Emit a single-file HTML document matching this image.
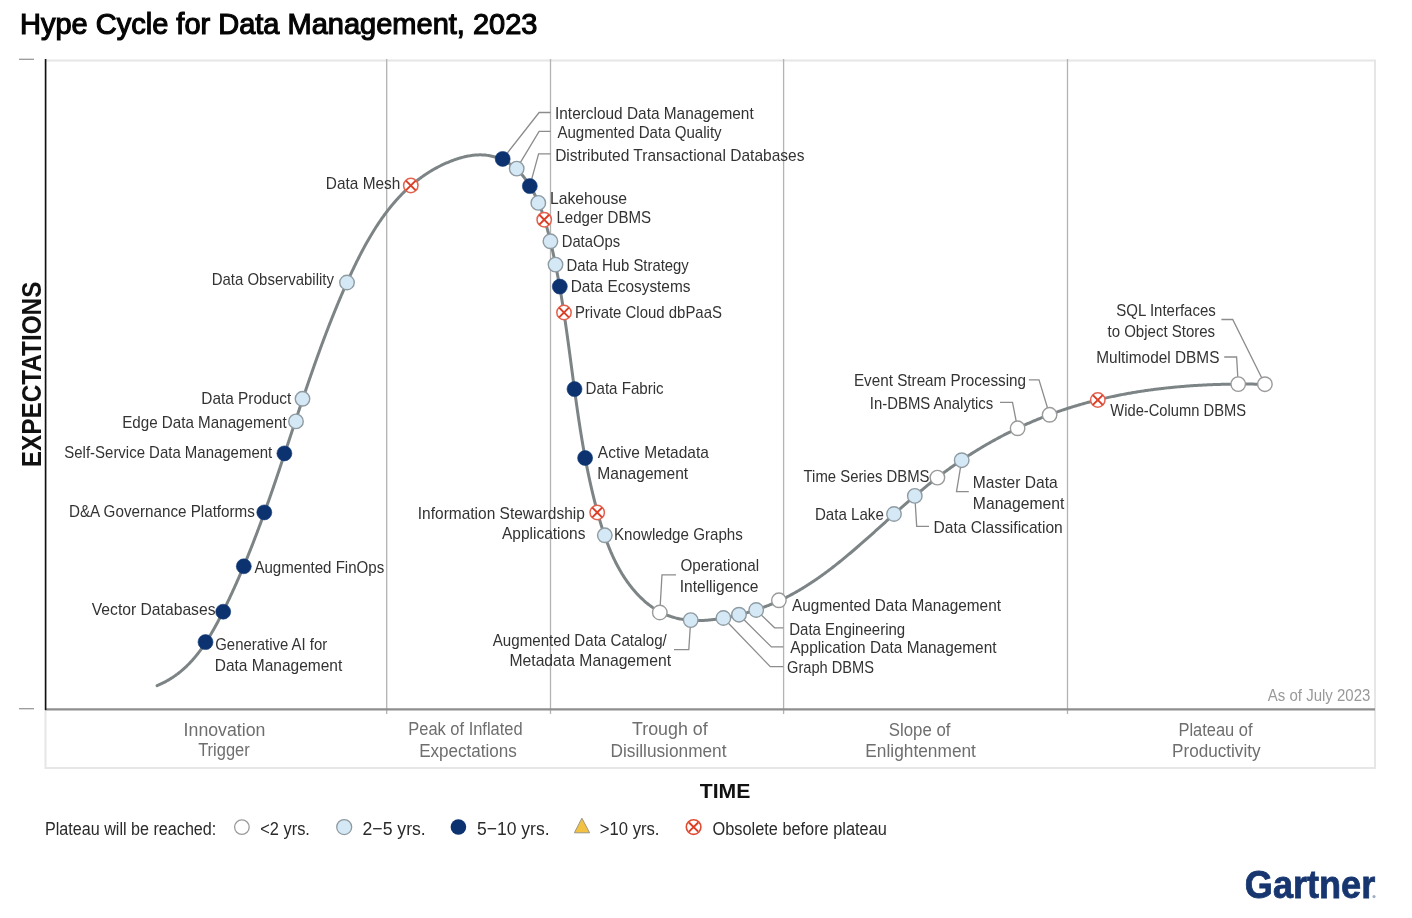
<!DOCTYPE html><html><head><meta charset="utf-8"><title>Hype Cycle for Data Management, 2023</title><style>html,body{margin:0;padding:0;background:#fff;width:1412px;height:918px;overflow:hidden}svg{display:block;will-change:transform;font-family:"Liberation Sans",Arial,sans-serif}</style></head><body>
<svg width="1412" height="918" viewBox="0 0 1412 918">
<text x="19.98" y="34.20" font-size="30" fill="#050505" textLength="517.52" lengthAdjust="spacingAndGlyphs" stroke="#050505" stroke-width="1.2">Hype Cycle for Data Management, 2023</text>
<rect x="45.5" y="60.5" width="1329.5" height="707.5" fill="none" stroke="#e6e6e6" stroke-width="2"/>
<line x1="386.7" y1="59" x2="386.7" y2="714" stroke="#b3b3b3" stroke-width="1.3"/>
<line x1="550.5" y1="59" x2="550.5" y2="714" stroke="#b3b3b3" stroke-width="1.3"/>
<line x1="783.6" y1="59" x2="783.6" y2="714" stroke="#b3b3b3" stroke-width="1.3"/>
<line x1="1067.5" y1="59" x2="1067.5" y2="714" stroke="#b3b3b3" stroke-width="1.3"/>
<line x1="45" y1="709.3" x2="1375" y2="709.3" stroke="#8e8e8e" stroke-width="2.2"/>
<line x1="45.6" y1="59" x2="45.6" y2="710" stroke="#111" stroke-width="1.6"/>
<line x1="19" y1="59.3" x2="34" y2="59.3" stroke="#999" stroke-width="1.3"/>
<line x1="19" y1="708.7" x2="34" y2="708.7" stroke="#999" stroke-width="1.3"/>
<text transform="translate(41.4,467.18) rotate(-90)" x="0" y="0" font-size="28" font-weight="bold" fill="#111" textLength="185.55" lengthAdjust="spacingAndGlyphs">EXPECTATIONS</text>
<text x="699.69" y="797.90" font-size="20.5" font-weight="bold" fill="#111" textLength="50.63" lengthAdjust="spacingAndGlyphs">TIME</text>
<text x="1267.83" y="701.00" font-size="16" fill="#999" textLength="102.49" lengthAdjust="spacingAndGlyphs">As of July 2023</text>
<text x="183.61" y="735.80" font-size="17.5" fill="#6e6e6e" textLength="81.74" lengthAdjust="spacingAndGlyphs">Innovation</text>
<text x="198.17" y="756.40" font-size="17.5" fill="#6e6e6e" textLength="51.59" lengthAdjust="spacingAndGlyphs">Trigger</text>
<text x="408.28" y="735.40" font-size="17.5" fill="#6e6e6e" textLength="114.37" lengthAdjust="spacingAndGlyphs">Peak of Inflated</text>
<text x="419.13" y="756.50" font-size="17.5" fill="#6e6e6e" textLength="97.78" lengthAdjust="spacingAndGlyphs">Expectations</text>
<text x="632.04" y="735.40" font-size="17.5" fill="#6e6e6e" textLength="75.63" lengthAdjust="spacingAndGlyphs">Trough of</text>
<text x="610.52" y="756.50" font-size="17.5" fill="#6e6e6e" textLength="115.95" lengthAdjust="spacingAndGlyphs">Disillusionment</text>
<text x="888.84" y="735.80" font-size="17.5" fill="#6e6e6e" textLength="61.65" lengthAdjust="spacingAndGlyphs">Slope of</text>
<text x="865.32" y="756.80" font-size="17.5" fill="#6e6e6e" textLength="110.63" lengthAdjust="spacingAndGlyphs">Enlightenment</text>
<text x="1178.48" y="735.80" font-size="17.5" fill="#6e6e6e" textLength="74.09" lengthAdjust="spacingAndGlyphs">Plateau of</text>
<text x="1172.03" y="756.80" font-size="17.5" fill="#6e6e6e" textLength="88.53" lengthAdjust="spacingAndGlyphs">Productivity</text>
<path d="M157.09,685.58 L158.20,685.12 L159.30,684.65 L160.39,684.16 L161.47,683.66 L162.54,683.15 L163.60,682.63 L164.64,682.10 L165.68,681.55 L166.70,680.99 L167.71,680.42 L168.72,679.84 L169.71,679.25 L170.69,678.65 L171.66,678.04 L172.62,677.41 L173.57,676.78 L174.51,676.13 L175.44,675.48 L176.36,674.81 L177.28,674.14 L178.18,673.45 L179.07,672.76 L179.95,672.05 L180.83,671.34 L181.69,670.62 L182.55,669.88 L183.40,669.14 L184.23,668.39 L185.06,667.63 L185.88,666.86 L186.70,666.09 L187.50,665.30 L188.30,664.51 L189.09,663.71 L189.87,662.90 L190.64,662.08 L191.40,661.26 L192.16,660.42 L192.91,659.58 L193.65,658.74 L194.39,657.88 L195.11,657.02 L195.83,656.15 L196.55,655.28 L197.25,654.40 L197.95,653.51 L198.65,652.61 L199.33,651.71 L200.01,650.80 L200.69,649.89 L201.36,648.97 L202.02,648.05 L202.67,647.12 L203.32,646.18 L203.97,645.24 L204.61,644.30 L205.24,643.34 L205.87,642.39 L206.49,641.43 L207.11,640.46 L207.72,639.49 L208.33,638.52 L208.93,637.54 L209.53,636.56 L210.12,635.57 L210.71,634.58 L211.30,633.59 L211.88,632.59 L212.45,631.59 L213.02,630.59 L213.59,629.58 L214.16,628.57 L214.72,627.56 L215.27,626.54 L215.83,625.52 L216.38,624.50 L216.92,623.48 L217.47,622.46 L218.01,621.43 L218.54,620.40 L219.08,619.37 L219.61,618.34 L220.14,617.31 L220.67,616.27 L221.19,615.23 L221.71,614.20 L222.23,613.16 L222.75,612.12 L223.27,611.08 L223.78,610.04 L224.29,609.00 L224.81,607.96 L225.31,606.91 L225.82,605.87 L226.33,604.83 L226.83,603.78 L227.33,602.74 L227.83,601.70 L228.33,600.65 L228.82,599.60 L229.32,598.56 L229.81,597.51 L230.30,596.46 L230.79,595.41 L231.28,594.36 L231.76,593.31 L232.25,592.26 L232.73,591.21 L233.21,590.16 L233.69,589.11 L234.17,588.06 L234.64,587.00 L235.12,585.95 L235.59,584.90 L236.06,583.84 L236.53,582.79 L237.00,581.73 L237.46,580.68 L237.93,579.62 L238.39,578.56 L238.85,577.51 L239.31,576.45 L239.77,575.39 L240.23,574.33 L240.68,573.27 L241.14,572.21 L241.59,571.15 L242.04,570.09 L242.49,569.03 L242.94,567.97 L243.39,566.91 L243.83,565.84 L244.28,564.78 L244.72,563.72 L245.16,562.65 L245.60,561.59 L246.04,560.53 L246.48,559.46 L246.91,558.40 L247.35,557.33 L247.78,556.26 L248.21,555.20 L248.64,554.13 L249.07,553.06 L249.50,551.99 L249.93,550.93 L250.35,549.86 L250.78,548.79 L251.20,547.72 L251.62,546.65 L252.04,545.58 L252.46,544.51 L252.88,543.44 L253.30,542.37 L253.71,541.30 L254.13,540.23 L254.54,539.15 L254.95,538.08 L255.36,537.01 L255.78,535.94 L256.18,534.86 L256.59,533.79 L257.00,532.72 L257.41,531.64 L257.81,530.57 L258.21,529.49 L258.62,528.42 L259.02,527.34 L259.42,526.27 L259.82,525.19 L260.22,524.11 L260.62,523.04 L261.02,521.96 L261.41,520.88 L261.81,519.81 L262.20,518.73 L262.59,517.65 L262.99,516.57 L263.38,515.50 L263.77,514.42 L264.16,513.34 L264.55,512.26 L264.94,511.18 L265.32,510.10 L265.71,509.02 L266.10,507.94 L266.48,506.86 L266.86,505.78 L267.25,504.70 L267.63,503.62 L268.01,502.54 L268.39,501.46 L268.77,500.38 L269.15,499.30 L269.53,498.22 L269.91,497.14 L270.29,496.06 L270.67,494.97 L271.04,493.89 L271.42,492.81 L271.79,491.73 L272.17,490.65 L272.54,489.56 L272.91,488.48 L273.29,487.40 L273.66,486.32 L274.03,485.23 L274.40,484.15 L274.77,483.07 L275.14,481.98 L275.51,480.90 L275.88,479.82 L276.25,478.73 L276.61,477.65 L276.98,476.57 L277.35,475.48 L277.71,474.40 L278.08,473.32 L278.44,472.23 L278.81,471.15 L279.17,470.07 L279.54,468.98 L279.90,467.90 L280.26,466.81 L280.63,465.73 L280.99,464.65 L281.35,463.56 L281.71,462.48 L282.07,461.39 L282.44,460.31 L282.80,459.23 L283.16,458.14 L283.52,457.06 L283.88,455.97 L284.24,454.89 L284.60,453.80 L284.96,452.72 L285.32,451.64 L285.67,450.55 L286.03,449.47 L286.39,448.38 L286.75,447.30 L287.11,446.22 L287.47,445.13 L287.82,444.05 L288.18,442.97 L288.54,441.88 L288.90,440.80 L289.25,439.71 L289.61,438.63 L289.97,437.55 L290.32,436.46 L290.68,435.38 L291.04,434.30 L291.40,433.21 L291.75,432.13 L292.11,431.05 L292.47,429.96 L292.82,428.88 L293.18,427.80 L293.54,426.71 L293.90,425.63 L294.25,424.55 L294.61,423.46 L294.97,422.38 L295.33,421.30 L295.68,420.21 L296.04,419.13 L296.40,418.05 L296.76,416.97 L297.12,415.88 L297.48,414.80 L297.83,413.72 L298.19,412.64 L298.55,411.55 L298.91,410.47 L299.27,409.39 L299.63,408.31 L299.99,407.22 L300.35,406.14 L300.71,405.06 L301.08,403.98 L301.44,402.90 L301.80,401.81 L302.16,400.73 L302.52,399.65 L302.89,398.57 L303.25,397.49 L303.61,396.41 L303.98,395.32 L304.34,394.24 L304.71,393.16 L305.07,392.08 L305.44,391.00 L305.81,389.92 L306.17,388.84 L306.54,387.76 L306.91,386.68 L307.28,385.60 L307.65,384.51 L308.02,383.43 L308.39,382.35 L308.76,381.27 L309.13,380.19 L309.50,379.11 L309.88,378.03 L310.25,376.95 L310.62,375.87 L311.00,374.79 L311.37,373.71 L311.75,372.63 L312.12,371.55 L312.50,370.48 L312.88,369.40 L313.26,368.32 L313.64,367.24 L314.02,366.16 L314.40,365.08 L314.78,364.00 L315.16,362.92 L315.55,361.84 L315.93,360.77 L316.32,359.69 L316.70,358.61 L317.09,357.53 L317.48,356.45 L317.87,355.37 L318.26,354.30 L318.65,353.22 L319.04,352.14 L319.43,351.06 L319.82,349.99 L320.22,348.91 L320.61,347.83 L321.01,346.75 L321.40,345.68 L321.80,344.60 L322.20,343.52 L322.60,342.45 L323.00,341.37 L323.41,340.30 L323.81,339.22 L324.21,338.14 L324.62,337.07 L325.02,335.99 L325.43,334.92 L325.84,333.84 L326.25,332.77 L326.66,331.69 L327.07,330.61 L327.49,329.54 L327.90,328.46 L328.32,327.39 L328.73,326.32 L329.15,325.24 L329.57,324.17 L329.99,323.09 L330.41,322.02 L330.84,320.95 L331.26,319.87 L331.69,318.80 L332.12,317.72 L332.54,316.65 L332.97,315.58 L333.41,314.51 L333.84,313.43 L334.27,312.36 L334.71,311.29 L335.14,310.21 L335.58,309.14 L336.02,308.07 L336.46,307.00 L336.90,305.93 L337.35,304.86 L337.79,303.78 L338.24,302.71 L338.69,301.64 L339.14,300.57 L339.59,299.50 L340.04,298.43 L340.50,297.36 L340.95,296.29 L341.41,295.22 L341.87,294.15 L342.33,293.08 L342.79,292.01 L343.26,290.94 L343.72,289.87 L344.19,288.80 L344.66,287.73 L345.13,286.66 L345.60,285.60 L346.08,284.53 L346.55,283.46 L347.03,282.39 L347.51,281.32 L347.99,280.26 L348.47,279.19 L348.96,278.12 L349.44,277.05 L349.93,275.99 L350.42,274.92 L350.91,273.86 L351.41,272.79 L351.91,271.73 L352.40,270.67 L352.91,269.61 L353.41,268.55 L353.91,267.49 L354.42,266.43 L354.93,265.37 L355.44,264.31 L355.96,263.26 L356.47,262.20 L356.99,261.15 L357.52,260.10 L358.04,259.05 L358.57,258.00 L359.10,256.95 L359.63,255.91 L360.17,254.86 L360.70,253.82 L361.24,252.78 L361.79,251.74 L362.33,250.70 L362.88,249.67 L363.44,248.64 L363.99,247.61 L364.55,246.58 L365.11,245.55 L365.67,244.53 L366.24,243.51 L366.81,242.49 L367.39,241.47 L367.96,240.46 L368.54,239.45 L369.13,238.44 L369.71,237.43 L370.30,236.43 L370.90,235.43 L371.49,234.43 L372.10,233.43 L372.70,232.44 L373.31,231.45 L373.92,230.47 L374.53,229.49 L375.15,228.51 L375.78,227.53 L376.40,226.56 L377.03,225.59 L377.67,224.62 L378.30,223.66 L378.95,222.70 L379.59,221.75 L380.24,220.80 L380.90,219.85 L381.55,218.91 L382.22,217.97 L382.88,217.03 L383.55,216.10 L384.23,215.17 L384.91,214.25 L385.59,213.33 L386.28,212.41 L386.97,211.50 L387.67,210.60 L388.37,209.70 L389.07,208.80 L389.78,207.90 L390.50,207.02 L391.22,206.13 L391.94,205.25 L392.67,204.38 L393.40,203.51 L394.14,202.65 L394.89,201.79 L395.63,200.93 L396.39,200.08 L397.14,199.24 L397.91,198.40 L398.68,197.57 L399.45,196.74 L400.23,195.92 L401.01,195.10 L401.80,194.29 L402.59,193.48 L403.39,192.68 L404.19,191.89 L405.00,191.10 L405.82,190.31 L406.64,189.54 L407.46,188.77 L408.29,188.00 L409.13,187.24 L409.97,186.49 L410.82,185.74 L411.67,185.00 L412.53,184.26 L413.40,183.54 L414.27,182.81 L415.14,182.10 L416.03,181.39 L416.91,180.69 L417.81,179.99 L418.71,179.30 L419.61,178.62 L420.52,177.95 L421.44,177.28 L422.37,176.62 L423.30,175.96 L424.23,175.31 L425.17,174.67 L426.12,174.04 L427.08,173.41 L428.04,172.80 L429.01,172.19 L429.98,171.58 L430.96,170.99 L431.95,170.40 L432.94,169.82 L433.94,169.24 L434.95,168.68 L435.96,168.12 L436.98,167.57 L438.01,167.03 L439.04,166.49 L440.08,165.97 L441.13,165.45 L442.18,164.94 L443.24,164.44 L444.31,163.94 L445.39,163.46 L446.47,162.98 L447.56,162.51 L448.65,162.05 L449.76,161.60 L450.86,161.16 L451.98,160.73 L453.10,160.31 L454.23,159.90 L455.36,159.51 L456.49,159.12 L457.63,158.75 L458.78,158.39 L459.92,158.04 L461.07,157.71 L462.23,157.40 L463.38,157.10 L464.54,156.82 L465.70,156.55 L466.86,156.30 L468.02,156.07 L469.18,155.86 L470.34,155.66 L471.50,155.49 L472.66,155.33 L473.82,155.20 L474.98,155.09 L476.13,154.99 L477.28,154.92 L478.44,154.88 L479.58,154.86 L480.73,154.86 L481.87,154.88 L483.01,154.93 L484.14,155.00 L485.27,155.10 L486.40,155.22 L487.51,155.37 L488.63,155.53 L489.74,155.72 L490.84,155.94 L491.93,156.17 L493.02,156.43 L494.10,156.72 L495.18,157.02 L496.25,157.34 L497.31,157.69 L498.36,158.06 L499.40,158.45 L500.44,158.87 L501.46,159.30 L502.48,159.75 L503.49,160.23 L504.48,160.73 L505.47,161.24 L506.45,161.78 L507.41,162.34 L508.37,162.92 L509.31,163.51 L510.25,164.13 L511.17,164.77 L512.07,165.43 L512.97,166.10 L513.85,166.80 L514.72,167.51 L515.58,168.24 L516.42,168.99 L517.25,169.76 L518.06,170.55 L518.87,171.35 L519.65,172.17 L520.43,173.00 L521.19,173.85 L521.94,174.72 L522.68,175.59 L523.40,176.48 L524.11,177.39 L524.81,178.30 L525.50,179.23 L526.17,180.16 L526.83,181.10 L527.49,182.06 L528.13,183.02 L528.76,183.99 L529.37,184.96 L529.98,185.94 L530.57,186.93 L531.16,187.92 L531.73,188.92 L532.30,189.92 L532.85,190.93 L533.40,191.94 L533.93,192.95 L534.46,193.98 L534.97,195.00 L535.48,196.03 L535.97,197.07 L536.46,198.11 L536.94,199.15 L537.41,200.20 L537.87,201.25 L538.32,202.31 L538.77,203.37 L539.21,204.43 L539.64,205.50 L540.06,206.57 L540.47,207.64 L540.88,208.72 L541.28,209.80 L541.67,210.88 L542.06,211.97 L542.44,213.05 L542.81,214.15 L543.18,215.24 L543.54,216.34 L543.90,217.44 L544.25,218.54 L544.59,219.64 L544.93,220.75 L545.26,221.86 L545.59,222.97 L545.92,224.08 L546.23,225.19 L546.55,226.31 L546.86,227.42 L547.16,228.54 L547.46,229.66 L547.76,230.78 L548.06,231.90 L548.35,233.03 L548.63,234.15 L548.92,235.27 L549.20,236.40 L549.48,237.52 L549.75,238.65 L550.02,239.78 L550.29,240.90 L550.56,242.03 L550.83,243.16 L551.09,244.28 L551.35,245.41 L551.61,246.54 L551.87,247.67 L552.13,248.79 L552.38,249.92 L552.63,251.05 L552.88,252.18 L553.13,253.31 L553.38,254.44 L553.62,255.56 L553.86,256.69 L554.11,257.82 L554.34,258.95 L554.58,260.08 L554.82,261.21 L555.05,262.34 L555.28,263.47 L555.51,264.60 L555.74,265.72 L555.96,266.85 L556.19,267.98 L556.41,269.11 L556.63,270.24 L556.85,271.37 L557.07,272.50 L557.29,273.63 L557.50,274.76 L557.72,275.89 L557.93,277.03 L558.14,278.16 L558.35,279.29 L558.55,280.42 L558.76,281.55 L558.96,282.68 L559.17,283.81 L559.37,284.94 L559.57,286.07 L559.77,287.20 L559.96,288.34 L560.16,289.47 L560.36,290.60 L560.55,291.73 L560.74,292.86 L560.93,293.99 L561.12,295.12 L561.31,296.26 L561.50,297.39 L561.68,298.52 L561.87,299.65 L562.05,300.78 L562.24,301.92 L562.42,303.05 L562.60,304.18 L562.78,305.31 L562.96,306.45 L563.13,307.58 L563.31,308.71 L563.49,309.84 L563.66,310.98 L563.83,312.11 L564.01,313.24 L564.18,314.37 L564.35,315.51 L564.52,316.64 L564.69,317.77 L564.86,318.91 L565.02,320.04 L565.19,321.17 L565.36,322.30 L565.52,323.44 L565.69,324.57 L565.85,325.70 L566.01,326.84 L566.17,327.97 L566.34,329.10 L566.50,330.24 L566.66,331.37 L566.82,332.50 L566.98,333.64 L567.13,334.77 L567.29,335.90 L567.45,337.04 L567.61,338.17 L567.76,339.30 L567.92,340.44 L568.08,341.57 L568.23,342.70 L568.39,343.84 L568.54,344.97 L568.69,346.10 L568.85,347.24 L569.00,348.37 L569.15,349.50 L569.31,350.64 L569.46,351.77 L569.61,352.91 L569.76,354.04 L569.91,355.17 L570.06,356.31 L570.22,357.44 L570.37,358.57 L570.52,359.71 L570.67,360.84 L570.82,361.97 L570.97,363.11 L571.12,364.24 L571.27,365.37 L571.42,366.51 L571.57,367.64 L571.72,368.77 L571.87,369.91 L572.02,371.04 L572.17,372.17 L572.32,373.31 L572.47,374.44 L572.62,375.57 L572.78,376.70 L572.93,377.84 L573.08,378.97 L573.23,380.10 L573.38,381.24 L573.53,382.37 L573.68,383.50 L573.84,384.64 L573.99,385.77 L574.14,386.90 L574.29,388.03 L574.45,389.17 L574.60,390.30 L574.76,391.43 L574.91,392.56 L575.07,393.70 L575.22,394.83 L575.38,395.96 L575.53,397.09 L575.69,398.22 L575.85,399.36 L576.01,400.49 L576.17,401.62 L576.32,402.75 L576.48,403.88 L576.64,405.02 L576.81,406.15 L576.97,407.28 L577.13,408.41 L577.29,409.54 L577.46,410.67 L577.62,411.81 L577.79,412.94 L577.95,414.07 L578.12,415.20 L578.29,416.33 L578.45,417.46 L578.62,418.59 L578.79,419.72 L578.96,420.85 L579.13,421.98 L579.31,423.11 L579.48,424.24 L579.66,425.38 L579.83,426.51 L580.01,427.64 L580.18,428.77 L580.36,429.90 L580.54,431.03 L580.72,432.16 L580.90,433.28 L581.09,434.41 L581.27,435.54 L581.46,436.67 L581.64,437.80 L581.83,438.93 L582.02,440.06 L582.21,441.19 L582.40,442.32 L582.59,443.45 L582.78,444.57 L582.98,445.70 L583.18,446.83 L583.37,447.96 L583.57,449.09 L583.77,450.22 L583.97,451.34 L584.18,452.47 L584.38,453.60 L584.59,454.73 L584.79,455.85 L585.00,456.98 L585.21,458.11 L585.42,459.23 L585.64,460.36 L585.85,461.49 L586.07,462.61 L586.29,463.74 L586.51,464.87 L586.73,465.99 L586.95,467.12 L587.17,468.24 L587.40,469.37 L587.63,470.49 L587.86,471.62 L588.09,472.74 L588.32,473.87 L588.56,474.99 L588.79,476.12 L589.03,477.24 L589.27,478.37 L589.52,479.49 L589.76,480.61 L590.01,481.74 L590.25,482.86 L590.50,483.99 L590.76,485.11 L591.01,486.23 L591.27,487.36 L591.52,488.48 L591.78,489.60 L592.04,490.72 L592.31,491.84 L592.57,492.97 L592.84,494.09 L593.11,495.21 L593.39,496.33 L593.66,497.45 L593.94,498.57 L594.22,499.70 L594.50,500.82 L594.78,501.94 L595.07,503.06 L595.35,504.18 L595.64,505.30 L595.94,506.42 L596.23,507.54 L596.53,508.66 L596.83,509.77 L597.13,510.89 L597.43,512.01 L597.74,513.13 L598.05,514.25 L598.36,515.37 L598.68,516.48 L598.99,517.60 L599.31,518.72 L599.64,519.83 L599.96,520.95 L600.29,522.06 L600.63,523.18 L600.96,524.29 L601.30,525.40 L601.64,526.51 L601.99,527.62 L602.34,528.73 L602.69,529.83 L603.05,530.94 L603.41,532.04 L603.78,533.14 L604.15,534.24 L604.52,535.34 L604.90,536.43 L605.28,537.53 L605.67,538.62 L606.06,539.71 L606.46,540.80 L606.86,541.88 L607.26,542.97 L607.67,544.05 L608.09,545.13 L608.51,546.20 L608.94,547.27 L609.37,548.34 L609.80,549.41 L610.25,550.47 L610.69,551.54 L611.15,552.59 L611.61,553.65 L612.07,554.70 L612.54,555.75 L613.02,556.79 L613.50,557.84 L613.99,558.87 L614.49,559.91 L614.99,560.94 L615.50,561.96 L616.01,562.99 L616.53,564.01 L617.06,565.02 L617.59,566.03 L618.14,567.04 L618.69,568.04 L619.24,569.04 L619.80,570.03 L620.37,571.02 L620.95,572.00 L621.54,572.98 L622.13,573.96 L622.73,574.92 L623.34,575.89 L623.95,576.85 L624.58,577.80 L625.21,578.75 L625.85,579.70 L626.50,580.64 L627.15,581.57 L627.82,582.50 L628.49,583.42 L629.17,584.33 L629.86,585.24 L630.56,586.15 L631.27,587.05 L631.98,587.94 L632.71,588.83 L633.44,589.71 L634.19,590.58 L634.94,591.45 L635.70,592.31 L636.47,593.17 L637.25,594.01 L638.04,594.86 L638.84,595.69 L639.65,596.51 L640.47,597.33 L641.30,598.14 L642.13,598.93 L642.98,599.72 L643.83,600.50 L644.70,601.27 L645.57,602.02 L646.45,602.77 L647.34,603.50 L648.24,604.22 L649.14,604.93 L650.06,605.63 L650.98,606.31 L651.92,606.98 L652.86,607.63 L653.81,608.27 L654.77,608.90 L655.74,609.51 L656.71,610.10 L657.70,610.68 L658.69,611.24 L659.69,611.78 L660.70,612.31 L661.72,612.82 L662.74,613.31 L663.78,613.78 L664.82,614.24 L665.87,614.68 L666.92,615.10 L667.98,615.51 L669.05,615.90 L670.12,616.27 L671.20,616.63 L672.29,616.97 L673.38,617.30 L674.47,617.60 L675.57,617.90 L676.68,618.17 L677.79,618.43 L678.90,618.68 L680.02,618.91 L681.14,619.12 L682.27,619.32 L683.40,619.51 L684.53,619.67 L685.66,619.83 L686.80,619.97 L687.94,620.09 L689.08,620.20 L690.22,620.29 L691.37,620.38 L692.51,620.44 L693.66,620.49 L694.81,620.53 L695.96,620.56 L697.11,620.57 L698.26,620.57 L699.41,620.56 L700.57,620.54 L701.72,620.50 L702.87,620.46 L704.03,620.40 L705.18,620.33 L706.34,620.25 L707.49,620.16 L708.65,620.06 L709.81,619.95 L710.96,619.84 L712.12,619.71 L713.27,619.58 L714.42,619.43 L715.58,619.28 L716.73,619.12 L717.88,618.96 L719.03,618.78 L720.19,618.60 L721.33,618.42 L722.48,618.22 L723.63,618.03 L724.78,617.82 L725.92,617.61 L727.06,617.40 L728.20,617.18 L729.34,616.95 L730.48,616.72 L731.62,616.48 L732.76,616.24 L733.89,615.99 L735.02,615.74 L736.15,615.48 L737.28,615.21 L738.41,614.94 L739.53,614.66 L740.66,614.38 L741.78,614.09 L742.90,613.80 L744.02,613.50 L745.13,613.20 L746.25,612.89 L747.36,612.57 L748.47,612.25 L749.58,611.92 L750.69,611.59 L751.79,611.25 L752.89,610.91 L753.99,610.56 L755.09,610.21 L756.19,609.85 L757.28,609.48 L758.37,609.11 L759.46,608.74 L760.54,608.35 L761.63,607.97 L762.71,607.58 L763.79,607.18 L764.86,606.77 L765.94,606.36 L767.01,605.95 L768.08,605.53 L769.14,605.10 L770.21,604.67 L771.27,604.24 L772.33,603.79 L773.38,603.35 L774.43,602.89 L775.48,602.44 L776.53,601.97 L777.57,601.50 L778.62,601.03 L779.65,600.55 L780.69,600.06 L781.72,599.57 L782.75,599.08 L783.78,598.58 L784.80,598.07 L785.82,597.56 L786.84,597.04 L787.85,596.52 L788.87,595.99 L789.88,595.46 L790.88,594.92 L791.89,594.38 L792.89,593.83 L793.89,593.28 L794.88,592.73 L795.88,592.17 L796.87,591.60 L797.86,591.03 L798.84,590.46 L799.82,589.88 L800.81,589.30 L801.78,588.71 L802.76,588.12 L803.73,587.52 L804.70,586.92 L805.67,586.32 L806.64,585.71 L807.60,585.10 L808.56,584.48 L809.52,583.86 L810.48,583.24 L811.44,582.61 L812.39,581.98 L813.34,581.34 L814.29,580.70 L815.23,580.06 L816.18,579.41 L817.12,578.77 L818.06,578.11 L819.00,577.46 L819.93,576.80 L820.87,576.13 L821.80,575.47 L822.73,574.80 L823.66,574.12 L824.58,573.45 L825.51,572.77 L826.43,572.09 L827.35,571.40 L828.27,570.72 L829.18,570.02 L830.10,569.33 L831.01,568.64 L831.92,567.94 L832.83,567.24 L833.74,566.53 L834.65,565.83 L835.55,565.12 L836.45,564.41 L837.35,563.69 L838.25,562.98 L839.15,562.26 L840.05,561.54 L840.94,560.81 L841.84,560.09 L842.73,559.36 L843.62,558.63 L844.51,557.90 L845.40,557.17 L846.29,556.44 L847.17,555.70 L848.05,554.96 L848.94,554.22 L849.82,553.48 L850.70,552.74 L851.58,551.99 L852.46,551.25 L853.33,550.50 L854.21,549.75 L855.08,549.00 L855.95,548.25 L856.83,547.50 L857.70,546.74 L858.57,545.99 L859.44,545.23 L860.30,544.47 L861.17,543.72 L862.04,542.96 L862.90,542.20 L863.77,541.44 L864.63,540.67 L865.49,539.91 L866.35,539.15 L867.22,538.39 L868.08,537.62 L868.93,536.86 L869.79,536.09 L870.65,535.33 L871.51,534.56 L872.36,533.79 L873.22,533.03 L874.08,532.26 L874.93,531.49 L875.79,530.72 L876.64,529.95 L877.49,529.19 L878.35,528.42 L879.20,527.65 L880.05,526.88 L880.90,526.11 L881.76,525.34 L882.61,524.57 L883.46,523.80 L884.31,523.04 L885.16,522.27 L886.02,521.50 L886.87,520.73 L887.72,519.96 L888.57,519.19 L889.42,518.43 L890.27,517.66 L891.12,516.89 L891.98,516.12 L892.83,515.36 L893.68,514.59 L894.53,513.83 L895.39,513.06 L896.24,512.30 L897.09,511.53 L897.95,510.77 L898.80,510.01 L899.66,509.25 L900.51,508.48 L901.37,507.72 L902.23,506.96 L903.08,506.20 L903.94,505.45 L904.80,504.69 L905.66,503.93 L906.52,503.18 L907.38,502.42 L908.24,501.67 L909.10,500.92 L909.96,500.17 L910.83,499.42 L911.69,498.67 L912.56,497.92 L913.43,497.17 L914.29,496.43 L915.16,495.68 L916.03,494.94 L916.91,494.20 L917.78,493.46 L918.65,492.72 L919.53,491.98 L920.40,491.25 L921.28,490.51 L922.16,489.78 L923.04,489.05 L923.92,488.32 L924.80,487.59 L925.69,486.87 L926.57,486.14 L927.46,485.42 L928.35,484.70 L929.24,483.98 L930.13,483.26 L931.03,482.55 L931.92,481.83 L932.82,481.12 L933.72,480.41 L934.62,479.70 L935.53,479.00 L936.43,478.30 L937.34,477.60 L938.25,476.90 L939.16,476.20 L940.07,475.50 L940.98,474.81 L941.90,474.12 L942.82,473.43 L943.74,472.75 L944.66,472.07 L945.58,471.38 L946.51,470.71 L947.44,470.03 L948.37,469.35 L949.30,468.68 L950.23,468.01 L951.17,467.34 L952.10,466.68 L953.04,466.02 L953.98,465.36 L954.93,464.70 L955.87,464.04 L956.82,463.39 L957.76,462.74 L958.71,462.09 L959.66,461.44 L960.62,460.80 L961.57,460.15 L962.53,459.51 L963.49,458.88 L964.45,458.24 L965.41,457.61 L966.37,456.98 L967.33,456.35 L968.30,455.73 L969.27,455.11 L970.24,454.48 L971.21,453.87 L972.18,453.25 L973.16,452.64 L974.14,452.03 L975.11,451.42 L976.09,450.82 L977.07,450.21 L978.06,449.61 L979.04,449.02 L980.03,448.42 L981.02,447.83 L982.00,447.24 L983.00,446.65 L983.99,446.07 L984.98,445.48 L985.98,444.91 L986.97,444.33 L987.97,443.75 L988.97,443.18 L989.97,442.61 L990.98,442.05 L991.98,441.48 L992.99,440.92 L993.99,440.36 L995.00,439.81 L996.01,439.25 L997.03,438.70 L998.04,438.16 L999.05,437.61 L1000.07,437.07 L1001.09,436.53 L1002.10,435.99 L1003.13,435.46 L1004.15,434.93 L1005.17,434.40 L1006.19,433.87 L1007.22,433.35 L1008.25,432.83 L1009.27,432.31 L1010.30,431.80 L1011.34,431.29 L1012.37,430.78 L1013.40,430.27 L1014.44,429.77 L1015.47,429.27 L1016.51,428.77 L1017.55,428.27 L1018.59,427.78 L1019.63,427.29 L1020.67,426.81 L1021.72,426.32 L1022.76,425.84 L1023.81,425.37 L1024.86,424.89 L1025.90,424.42 L1026.95,423.95 L1028.00,423.49 L1029.06,423.02 L1030.11,422.57 L1031.17,422.11 L1032.22,421.65 L1033.28,421.20 L1034.34,420.76 L1035.40,420.31 L1036.46,419.87 L1037.52,419.43 L1038.58,419.00 L1039.64,418.56 L1040.71,418.13 L1041.77,417.71 L1042.84,417.28 L1043.91,416.86 L1044.98,416.45 L1046.05,416.03 L1047.12,415.62 L1048.19,415.21 L1049.26,414.81 L1050.34,414.41 L1051.41,414.01 L1052.49,413.61 L1053.57,413.22 L1054.65,412.83 L1055.73,412.45 L1056.81,412.06 L1057.89,411.68 L1058.97,411.31 L1060.05,410.93 L1061.14,410.56 L1062.22,410.20 L1063.31,409.83 L1064.39,409.47 L1065.48,409.11 L1066.57,408.76 L1067.66,408.40 L1068.75,408.05 L1069.84,407.71 L1070.93,407.36 L1072.03,407.02 L1073.12,406.68 L1074.22,406.35 L1075.31,406.02 L1076.41,405.69 L1077.51,405.36 L1078.60,405.04 L1079.70,404.72 L1080.80,404.40 L1081.90,404.09 L1083.01,403.78 L1084.11,403.47 L1085.21,403.16 L1086.32,402.86 L1087.42,402.56 L1088.53,402.26 L1089.63,401.97 L1090.74,401.67 L1091.85,401.39 L1092.96,401.10 L1094.07,400.82 L1095.18,400.53 L1096.29,400.26 L1097.40,399.98 L1098.51,399.71 L1099.62,399.44 L1100.74,399.17 L1101.85,398.91 L1102.97,398.65 L1104.08,398.39 L1105.20,398.13 L1106.32,397.88 L1107.43,397.63 L1108.55,397.38 L1109.67,397.13 L1110.79,396.89 L1111.91,396.65 L1113.03,396.41 L1114.15,396.18 L1115.28,395.94 L1116.40,395.71 L1117.52,395.48 L1118.65,395.26 L1119.77,395.04 L1120.89,394.82 L1122.02,394.60 L1123.15,394.39 L1124.27,394.17 L1125.40,393.96 L1126.53,393.76 L1127.66,393.55 L1128.79,393.35 L1129.92,393.15 L1131.05,392.95 L1132.18,392.76 L1133.31,392.57 L1134.44,392.38 L1135.57,392.19 L1136.70,392.00 L1137.83,391.82 L1138.97,391.64 L1140.10,391.46 L1141.24,391.29 L1142.37,391.11 L1143.51,390.94 L1144.64,390.77 L1145.78,390.61 L1146.91,390.44 L1148.05,390.28 L1149.19,390.12 L1150.33,389.97 L1151.46,389.81 L1152.60,389.66 L1153.74,389.51 L1154.88,389.36 L1156.02,389.22 L1157.16,389.07 L1158.30,388.93 L1159.44,388.79 L1160.58,388.66 L1161.72,388.52 L1162.86,388.39 L1164.00,388.26 L1165.15,388.13 L1166.29,388.01 L1167.43,387.88 L1168.57,387.76 L1169.72,387.64 L1170.86,387.53 L1172.00,387.41 L1173.15,387.30 L1174.29,387.19 L1175.44,387.08 L1176.58,386.97 L1177.73,386.87 L1178.87,386.77 L1180.02,386.67 L1181.16,386.57 L1182.31,386.47 L1183.45,386.38 L1184.60,386.29 L1185.75,386.20 L1186.89,386.11 L1188.04,386.02 L1189.19,385.94 L1190.33,385.86 L1191.48,385.78 L1192.63,385.70 L1193.78,385.62 L1194.92,385.55 L1196.07,385.48 L1197.22,385.40 L1198.37,385.34 L1199.51,385.27 L1200.66,385.21 L1201.81,385.14 L1202.96,385.08 L1204.11,385.02 L1205.25,384.97 L1206.40,384.91 L1207.55,384.86 L1208.70,384.81 L1209.85,384.76 L1211.00,384.71 L1212.14,384.66 L1213.29,384.62 L1214.44,384.57 L1215.59,384.53 L1216.74,384.49 L1217.89,384.46 L1219.03,384.42 L1220.18,384.39 L1221.33,384.36 L1222.48,384.33 L1223.63,384.30 L1224.78,384.27 L1225.92,384.24 L1227.07,384.22 L1228.22,384.20 L1229.37,384.18 L1230.52,384.16 L1231.66,384.14 L1232.81,384.13 L1233.96,384.11 L1235.11,384.10 L1236.25,384.09 L1237.40,384.08 L1238.55,384.08 L1239.69,384.07 L1240.84,384.07 L1241.99,384.06 L1243.13,384.06 L1244.28,384.06 L1245.43,384.06 L1246.57,384.07 L1247.72,384.07 L1248.86,384.08 L1250.01,384.09 L1251.15,384.10 L1252.30,384.11 L1253.44,384.12 L1254.59,384.14 L1255.73,384.15 L1256.87,384.17 L1258.02,384.19 L1259.16,384.21 L1260.30,384.23 L1261.44,384.25 L1262.59,384.27 L1263.73,384.30 L1264.87,384.33" fill="none" stroke="#7d8486" stroke-width="3" stroke-linecap="round" stroke-linejoin="round"/>
<polyline points="502.7,158.9 539.1,112.5 550.6,112.5" fill="none" stroke="#8c8c8c" stroke-width="1.3"/>
<polyline points="516.7,168.6 539.1,131.3 550.6,131.3" fill="none" stroke="#8c8c8c" stroke-width="1.3"/>
<polyline points="529.8,186.1 538.6,153.8 550.6,153.8" fill="none" stroke="#8c8c8c" stroke-width="1.3"/>
<polyline points="659.8,612.5 662.0,574.8 676.0,574.8" fill="none" stroke="#8c8c8c" stroke-width="1.3"/>
<polyline points="690.7,620.1 688.8,649.6 674.0,649.6" fill="none" stroke="#8c8c8c" stroke-width="1.3"/>
<polyline points="756.2,610 774.6,627.8 783.4,627.8" fill="none" stroke="#8c8c8c" stroke-width="1.3"/>
<polyline points="739,614.7 771.4,646.9 783.4,646.9" fill="none" stroke="#8c8c8c" stroke-width="1.3"/>
<polyline points="723.4,618 770.3,666.7 783.4,666.7" fill="none" stroke="#8c8c8c" stroke-width="1.3"/>
<polyline points="961.7,460.2 956.5,491.6 968.8,491.6" fill="none" stroke="#8c8c8c" stroke-width="1.3"/>
<polyline points="914.8,495.9 916.7,526.4 929.0,526.4" fill="none" stroke="#8c8c8c" stroke-width="1.3"/>
<polyline points="1017.6,428.3 1012.5,402.4 1000.0,402.4" fill="none" stroke="#8c8c8c" stroke-width="1.3"/>
<polyline points="1049.6,414.8 1039.0,379.8 1028.9,379.8" fill="none" stroke="#8c8c8c" stroke-width="1.3"/>
<polyline points="1238.2,384.1 1236.6,357.0 1224.2,357.0" fill="none" stroke="#8c8c8c" stroke-width="1.3"/>
<polyline points="1264.9,384.2 1232.7,319.5 1221.4,319.5" fill="none" stroke="#8c8c8c" stroke-width="1.3"/>
<circle cx="205.5" cy="642.1" r="7.5" fill="#0d3270" stroke="#113a78" stroke-width="0.6"/>
<circle cx="223.2" cy="611.7" r="7.5" fill="#0d3270" stroke="#113a78" stroke-width="0.6"/>
<circle cx="243.8" cy="566.3" r="7.5" fill="#0d3270" stroke="#113a78" stroke-width="0.6"/>
<circle cx="264.3" cy="512.4" r="7.5" fill="#0d3270" stroke="#113a78" stroke-width="0.6"/>
<circle cx="284.4" cy="453.4" r="7.5" fill="#0d3270" stroke="#113a78" stroke-width="0.6"/>
<circle cx="296" cy="421.4" r="7.25" fill="#d5e8f5" stroke="#8f9ba2" stroke-width="1.4"/>
<circle cx="302.5" cy="398.8" r="7.25" fill="#d5e8f5" stroke="#8f9ba2" stroke-width="1.4"/>
<circle cx="347" cy="282.5" r="7.25" fill="#d5e8f5" stroke="#8f9ba2" stroke-width="1.4"/>
<g><circle cx="410.8" cy="185.5" r="7.2" fill="#fff" stroke="#e3624f" stroke-width="1.5"/><path d="M405.90,180.60L415.70,190.40M415.70,180.60L405.90,190.40" stroke="#dc3f28" stroke-width="2.0"/></g>
<circle cx="502.7" cy="158.9" r="7.5" fill="#0d3270" stroke="#113a78" stroke-width="0.6"/>
<circle cx="516.7" cy="168.6" r="7.25" fill="#d5e8f5" stroke="#8f9ba2" stroke-width="1.4"/>
<circle cx="529.8" cy="186.1" r="7.5" fill="#0d3270" stroke="#113a78" stroke-width="0.6"/>
<circle cx="538.3" cy="202.9" r="7.25" fill="#d5e8f5" stroke="#8f9ba2" stroke-width="1.4"/>
<g><circle cx="544.2" cy="219.7" r="7.2" fill="#fff" stroke="#e3624f" stroke-width="1.5"/><path d="M539.30,214.80L549.10,224.60M549.10,214.80L539.30,224.60" stroke="#dc3f28" stroke-width="2.0"/></g>
<circle cx="550.4" cy="241.3" r="7.25" fill="#d5e8f5" stroke="#8f9ba2" stroke-width="1.4"/>
<circle cx="555.5" cy="264.6" r="7.25" fill="#d5e8f5" stroke="#8f9ba2" stroke-width="1.4"/>
<circle cx="559.8" cy="286.6" r="7.5" fill="#0d3270" stroke="#113a78" stroke-width="0.6"/>
<g><circle cx="564" cy="312.5" r="7.2" fill="#fff" stroke="#e3624f" stroke-width="1.5"/><path d="M559.10,307.60L568.90,317.40M568.90,307.60L559.10,317.40" stroke="#dc3f28" stroke-width="2.0"/></g>
<circle cx="574.5" cy="389.1" r="7.5" fill="#0d3270" stroke="#113a78" stroke-width="0.6"/>
<circle cx="585.1" cy="458" r="7.5" fill="#0d3270" stroke="#113a78" stroke-width="0.6"/>
<g><circle cx="597.2" cy="512.5" r="7.2" fill="#fff" stroke="#e3624f" stroke-width="1.5"/><path d="M592.30,507.60L602.10,517.40M602.10,507.60L592.30,517.40" stroke="#dc3f28" stroke-width="2.0"/></g>
<circle cx="604.8" cy="535.3" r="7.25" fill="#d5e8f5" stroke="#8f9ba2" stroke-width="1.4"/>
<circle cx="659.8" cy="612.5" r="7.25" fill="#fff" stroke="#9a9a9a" stroke-width="1.4"/>
<circle cx="690.7" cy="620.1" r="7.25" fill="#d5e8f5" stroke="#8f9ba2" stroke-width="1.4"/>
<circle cx="723.4" cy="618" r="7.25" fill="#d5e8f5" stroke="#8f9ba2" stroke-width="1.4"/>
<circle cx="739" cy="614.7" r="7.25" fill="#d5e8f5" stroke="#8f9ba2" stroke-width="1.4"/>
<circle cx="756.2" cy="610" r="7.25" fill="#d5e8f5" stroke="#8f9ba2" stroke-width="1.4"/>
<circle cx="778.9" cy="600.3" r="7.25" fill="#fff" stroke="#9a9a9a" stroke-width="1.4"/>
<circle cx="894" cy="514" r="7.25" fill="#d5e8f5" stroke="#8f9ba2" stroke-width="1.4"/>
<circle cx="914.8" cy="495.9" r="7.25" fill="#d5e8f5" stroke="#8f9ba2" stroke-width="1.4"/>
<circle cx="937.4" cy="477.6" r="7.25" fill="#fff" stroke="#9a9a9a" stroke-width="1.4"/>
<circle cx="961.7" cy="460.2" r="7.25" fill="#d5e8f5" stroke="#8f9ba2" stroke-width="1.4"/>
<circle cx="1017.6" cy="428.3" r="7.25" fill="#fff" stroke="#9a9a9a" stroke-width="1.4"/>
<circle cx="1049.6" cy="414.8" r="7.25" fill="#fff" stroke="#9a9a9a" stroke-width="1.4"/>
<g><circle cx="1097.8" cy="400" r="7.2" fill="#fff" stroke="#e3624f" stroke-width="1.5"/><path d="M1092.90,395.10L1102.70,404.90M1102.70,395.10L1092.90,404.90" stroke="#dc3f28" stroke-width="2.0"/></g>
<circle cx="1238.2" cy="384.1" r="7.25" fill="#fff" stroke="#9a9a9a" stroke-width="1.4"/>
<circle cx="1264.9" cy="384.2" r="7.25" fill="#fff" stroke="#9a9a9a" stroke-width="1.4"/>
<text x="325.87" y="189.00" font-size="17" fill="#333" textLength="74.44" lengthAdjust="spacingAndGlyphs">Data Mesh</text>
<text x="211.70" y="284.80" font-size="17" fill="#333" textLength="122.27" lengthAdjust="spacingAndGlyphs">Data Observability</text>
<text x="201.27" y="403.60" font-size="17" fill="#333" textLength="89.93" lengthAdjust="spacingAndGlyphs">Data Product</text>
<text x="122.19" y="428.00" font-size="17" fill="#333" textLength="164.50" lengthAdjust="spacingAndGlyphs">Edge Data Management</text>
<text x="64.33" y="457.60" font-size="17" fill="#333" textLength="207.86" lengthAdjust="spacingAndGlyphs">Self-Service Data Management</text>
<text x="68.98" y="516.90" font-size="17" fill="#333" textLength="185.92" lengthAdjust="spacingAndGlyphs">D&amp;A Governance Platforms</text>
<text x="254.42" y="572.70" font-size="17" fill="#333" textLength="129.82" lengthAdjust="spacingAndGlyphs">Augmented FinOps</text>
<text x="91.72" y="615.10" font-size="17" fill="#333" textLength="123.81" lengthAdjust="spacingAndGlyphs">Vector Databases</text>
<text x="215.25" y="650.40" font-size="17" fill="#333" textLength="111.93" lengthAdjust="spacingAndGlyphs">Generative AI for</text>
<text x="214.76" y="671.10" font-size="17" fill="#333" textLength="127.55" lengthAdjust="spacingAndGlyphs">Data Management</text>
<text x="555.01" y="119.30" font-size="17" fill="#333" textLength="198.69" lengthAdjust="spacingAndGlyphs">Intercloud Data Management</text>
<text x="557.42" y="138.00" font-size="17" fill="#333" textLength="164.25" lengthAdjust="spacingAndGlyphs">Augmented Data Quality</text>
<text x="555.16" y="160.70" font-size="17" fill="#333" textLength="249.27" lengthAdjust="spacingAndGlyphs">Distributed Transactional Databases</text>
<text x="549.94" y="203.80" font-size="17" fill="#333" textLength="77.12" lengthAdjust="spacingAndGlyphs">Lakehouse</text>
<text x="556.39" y="222.60" font-size="17" fill="#333" textLength="94.70" lengthAdjust="spacingAndGlyphs">Ledger DBMS</text>
<text x="561.72" y="246.60" font-size="17" fill="#333" textLength="58.32" lengthAdjust="spacingAndGlyphs">DataOps</text>
<text x="566.41" y="271.00" font-size="17" fill="#333" textLength="122.39" lengthAdjust="spacingAndGlyphs">Data Hub Strategy</text>
<text x="570.67" y="291.80" font-size="17" fill="#333" textLength="119.78" lengthAdjust="spacingAndGlyphs">Data Ecosystems</text>
<text x="574.90" y="317.70" font-size="17" fill="#333" textLength="147.06" lengthAdjust="spacingAndGlyphs">Private Cloud dbPaaS</text>
<text x="585.59" y="394.20" font-size="17" fill="#333" textLength="78.06" lengthAdjust="spacingAndGlyphs">Data Fabric</text>
<text x="597.82" y="458.00" font-size="17" fill="#333" textLength="110.99" lengthAdjust="spacingAndGlyphs">Active Metadata</text>
<text x="597.35" y="479.20" font-size="17" fill="#333" textLength="90.86" lengthAdjust="spacingAndGlyphs">Management</text>
<text x="417.81" y="519.00" font-size="17" fill="#333" textLength="167.07" lengthAdjust="spacingAndGlyphs">Information Stewardship</text>
<text x="502.02" y="538.50" font-size="17" fill="#333" textLength="83.45" lengthAdjust="spacingAndGlyphs">Applications</text>
<text x="613.99" y="539.50" font-size="17" fill="#333" textLength="128.85" lengthAdjust="spacingAndGlyphs">Knowledge Graphs</text>
<text x="680.41" y="570.50" font-size="17" fill="#333" textLength="78.78" lengthAdjust="spacingAndGlyphs">Operational</text>
<text x="679.70" y="591.60" font-size="17" fill="#333" textLength="78.79" lengthAdjust="spacingAndGlyphs">Intelligence</text>
<text x="492.72" y="645.50" font-size="17" fill="#333" textLength="174.11" lengthAdjust="spacingAndGlyphs">Augmented Data Catalog/</text>
<text x="509.44" y="666.40" font-size="17" fill="#333" textLength="161.61" lengthAdjust="spacingAndGlyphs">Metadata Management</text>
<text x="792.12" y="610.80" font-size="17" fill="#333" textLength="208.83" lengthAdjust="spacingAndGlyphs">Augmented Data Management</text>
<text x="789.20" y="634.80" font-size="17" fill="#333" textLength="116.02" lengthAdjust="spacingAndGlyphs">Data Engineering</text>
<text x="790.32" y="653.00" font-size="17" fill="#333" textLength="206.19" lengthAdjust="spacingAndGlyphs">Application Data Management</text>
<text x="787.07" y="673.30" font-size="17" fill="#333" textLength="87.01" lengthAdjust="spacingAndGlyphs">Graph DBMS</text>
<text x="803.60" y="481.90" font-size="17" fill="#333" textLength="125.86" lengthAdjust="spacingAndGlyphs">Time Series DBMS</text>
<text x="814.89" y="519.80" font-size="17" fill="#333" textLength="68.97" lengthAdjust="spacingAndGlyphs">Data Lake</text>
<text x="972.85" y="488.00" font-size="17" fill="#333" textLength="84.87" lengthAdjust="spacingAndGlyphs">Master Data</text>
<text x="972.85" y="508.80" font-size="17" fill="#333" textLength="91.57" lengthAdjust="spacingAndGlyphs">Management</text>
<text x="933.55" y="533.20" font-size="17" fill="#333" textLength="129.18" lengthAdjust="spacingAndGlyphs">Data Classification</text>
<text x="853.88" y="386.00" font-size="17" fill="#333" textLength="172.16" lengthAdjust="spacingAndGlyphs">Event Stream Processing</text>
<text x="869.86" y="408.60" font-size="17" fill="#333" textLength="123.37" lengthAdjust="spacingAndGlyphs">In-DBMS Analytics</text>
<text x="1116.33" y="316.00" font-size="17" fill="#333" textLength="99.47" lengthAdjust="spacingAndGlyphs">SQL Interfaces</text>
<text x="1107.47" y="336.50" font-size="17" fill="#333" textLength="107.65" lengthAdjust="spacingAndGlyphs">to Object Stores</text>
<text x="1096.27" y="363.40" font-size="17" fill="#333" textLength="123.16" lengthAdjust="spacingAndGlyphs">Multimodel DBMS</text>
<text x="1110.33" y="415.70" font-size="17" fill="#333" textLength="135.70" lengthAdjust="spacingAndGlyphs">Wide-Column DBMS</text>
<text x="44.91" y="834.60" font-size="18.7" fill="#2a2a2a" textLength="171.39" lengthAdjust="spacingAndGlyphs">Plateau will be reached:</text>
<text x="260.28" y="834.60" font-size="18.7" fill="#2a2a2a" textLength="49.66" lengthAdjust="spacingAndGlyphs">&lt;2 yrs.</text>
<text x="362.52" y="834.60" font-size="18.7" fill="#2a2a2a" textLength="63.26" lengthAdjust="spacingAndGlyphs">2−5 yrs.</text>
<text x="477.00" y="834.60" font-size="18.7" fill="#2a2a2a" textLength="72.50" lengthAdjust="spacingAndGlyphs">5−10 yrs.</text>
<text x="599.77" y="834.60" font-size="18.7" fill="#2a2a2a" textLength="59.72" lengthAdjust="spacingAndGlyphs">&gt;10 yrs.</text>
<text x="712.46" y="834.60" font-size="18.7" fill="#2a2a2a" textLength="174.39" lengthAdjust="spacingAndGlyphs">Obsolete before plateau</text>
<circle cx="241.9" cy="827.1" r="7.3" fill="#fff" stroke="#9a9a9a" stroke-width="1.3"/>
<circle cx="344.2" cy="827.1" r="7.5" fill="#d5e8f5" stroke="#8f9ba2" stroke-width="1.3"/>
<circle cx="458.4" cy="827.0" r="7.8" fill="#0d3270"/>
<path d="M581.9,818.2 L589.6,832.8 L574.4,832.8 Z" fill="#f3c243" stroke="#9c9480" stroke-width="1"/>
<circle cx="693.6" cy="827.1" r="7.3" fill="#fff" stroke="#e04b34" stroke-width="1.6"/><path d="M689.0,822.5L698.2,831.7M698.2,822.5L689.0,831.7" stroke="#dc3d24" stroke-width="1.9"/>
<text x="1244.86" y="898.10" font-size="39" font-weight="bold" fill="#173670" textLength="130.39" lengthAdjust="spacingAndGlyphs" stroke="#173670" stroke-width="0.8">Gartner</text>
<circle cx="1374" cy="896.6" r="1.6" fill="#9fb0c6"/>
</svg></body></html>
